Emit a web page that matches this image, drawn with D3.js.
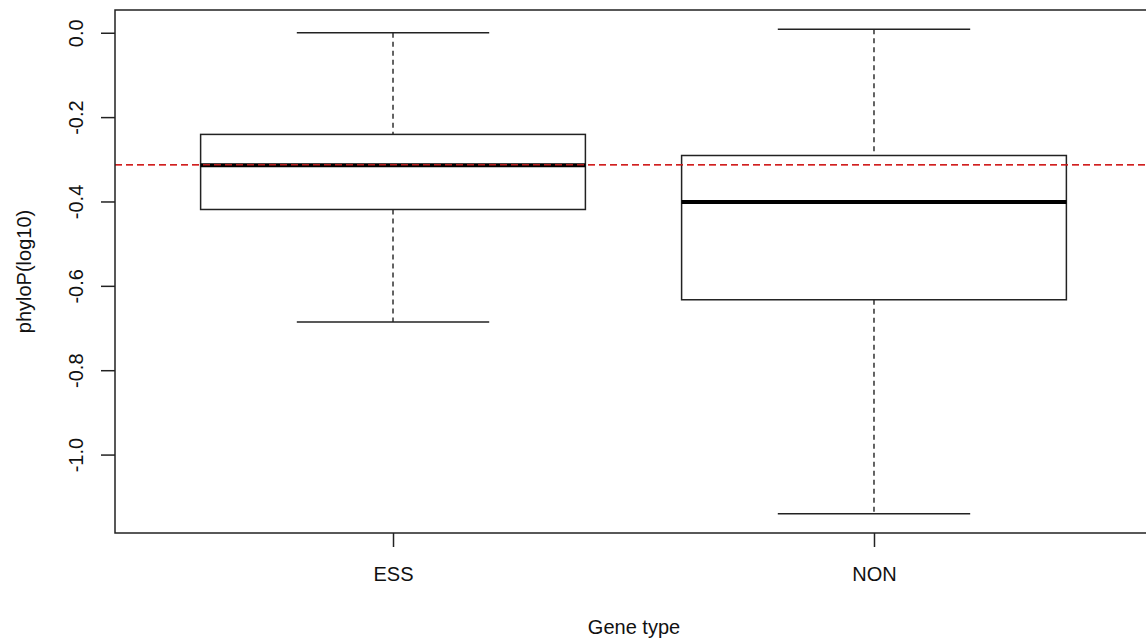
<!DOCTYPE html>
<html>
<head>
<meta charset="utf-8">
<script src="https://cdn.jsdelivr.net/npm/d3@7"></script>
<style>
  body { margin: 0; background: #fff; }
  text { font-family: "Liberation Sans", Arial, sans-serif; fill: #111; }
</style>
</head>
<body>
<div class="chart"></div>
<script>
// Boxplot of phyloP (log10) by gene type

var svgWidth = 1146;
var svgHeight = 641;

// data
var categories = ["ESS", "NON"];
var whiskerLow = [-0.686, -1.140];
var q1 = [-0.419, -0.633];
var median = [-0.314, -0.401];
var q3 = [-0.241, -0.291];
var whiskerHigh = [0.0, 0.008];
var refLine = -0.313;
var yTicks = [0.0, -0.2, -0.4, -0.6, -0.8, -1.0];

var boxes = categories.map(function(c, i) {
  return { name: c, pos: i + 1, lo: whiskerLow[i], q1: q1[i], med: median[i], q3: q3[i], hi: whiskerHigh[i] };
});

// plot region
var plot = { left: 115, right: 1152, top: 10, bottom: 533 };

var svg = d3.select(".chart")
  .append("svg")
  .attr("width", svgWidth)
  .attr("height", svgHeight);

// y limits extended 4% like R does
var yMin = d3.min(whiskerLow), yMax = d3.max(whiskerHigh);
var pad = (yMax - yMin) * 0.04;

var yScale = d3.scaleLinear()
  .domain([yMin - pad, yMax + pad])
  .range([plot.bottom, plot.top]);

var xScale = d3.scaleLinear()
  .domain([0.422, 2.578])
  .range([plot.left, plot.right]);

var boxHalf = 0.4, capHalf = 0.2;

// red reference line
svg.append("line")
  .attr("x1", plot.left).attr("x2", plot.right)
  .attr("y1", yScale(refLine)).attr("y2", yScale(refLine))
  .attr("stroke", "#ff4545")
  .attr("stroke-width", 1.5)
  .attr("stroke-dasharray", "7,4");

var g = svg.selectAll(".box")
  .data(boxes)
  .enter()
  .append("g")
  .attr("class", "box");

// whiskers (dashed)
g.append("line")
  .attr("x1", d => xScale(d.pos)).attr("x2", d => xScale(d.pos))
  .attr("y1", d => yScale(d.hi)).attr("y2", d => yScale(d.q3))
  .attr("stroke", "#111").attr("stroke-width", 1.3)
  .attr("stroke-dasharray", "5,4");
g.append("line")
  .attr("x1", d => xScale(d.pos)).attr("x2", d => xScale(d.pos))
  .attr("y1", d => yScale(d.q1)).attr("y2", d => yScale(d.lo))
  .attr("stroke", "#111").attr("stroke-width", 1.3)
  .attr("stroke-dasharray", "5,4");

// caps
g.append("line")
  .attr("x1", d => xScale(d.pos - capHalf)).attr("x2", d => xScale(d.pos + capHalf))
  .attr("y1", d => yScale(d.hi)).attr("y2", d => yScale(d.hi))
  .attr("stroke", "#222").attr("stroke-width", 1.5);
g.append("line")
  .attr("x1", d => xScale(d.pos - capHalf)).attr("x2", d => xScale(d.pos + capHalf))
  .attr("y1", d => yScale(d.lo)).attr("y2", d => yScale(d.lo))
  .attr("stroke", "#222").attr("stroke-width", 1.5);

// box
g.append("rect")
  .attr("x", d => xScale(d.pos - boxHalf))
  .attr("width", d => xScale(d.pos + boxHalf) - xScale(d.pos - boxHalf))
  .attr("y", d => yScale(d.q3))
  .attr("height", d => yScale(d.q1) - yScale(d.q3))
  .attr("fill", "none")
  .attr("stroke", "#222").attr("stroke-width", 1.5);

// median
g.append("line")
  .attr("x1", d => xScale(d.pos - boxHalf)).attr("x2", d => xScale(d.pos + boxHalf))
  .attr("y1", d => yScale(d.med)).attr("y2", d => yScale(d.med))
  .attr("stroke", "#000").attr("stroke-width", 4);

// red line again on top, it shows dark over the ESS median
svg.append("line")
  .attr("x1", plot.left).attr("x2", plot.right)
  .attr("y1", yScale(refLine)).attr("y2", yScale(refLine))
  .attr("stroke", "#c81e1e")
  .attr("stroke-width", 1.5)
  .attr("stroke-dasharray", "7,4")
  .attr("opacity", 0.9);

// frame
svg.append("rect")
  .attr("x", plot.left).attr("y", plot.top)
  .attr("width", plot.right - plot.left)
  .attr("height", plot.bottom - plot.top)
  .attr("fill", "none")
  .attr("stroke", "#222").attr("stroke-width", 1.5);

// y axis, plain hyphen minus like R
var fmt = d3.format(".1f");
var leftAxis = d3.axisLeft(yScale)
  .tickValues(yTicks)
  .tickSize(14)
  .tickFormat(d => fmt(d).replace("\u2212", "-"));

var yAxis = svg.append("g")
  .attr("transform", `translate(${plot.left}, 0)`)
  .call(leftAxis);
yAxis.select(".domain").remove();
yAxis.selectAll(".tick line").attr("stroke", "#222").attr("stroke-width", 1.5);
yAxis.selectAll(".tick text")
  .attr("x", 0).attr("y", 0).attr("dy", null)
  .attr("transform", "translate(-32,0) rotate(-90)")
  .attr("text-anchor", "middle")
  .attr("font-family", "Liberation Sans, Arial, sans-serif")
  .attr("font-size", "20px")
  .attr("fill", "#111");

// x axis
var bottomAxis = d3.axisBottom(xScale)
  .tickValues(boxes.map(d => d.pos))
  .tickSize(14)
  .tickFormat((d, i) => categories[i]);

var xAxis = svg.append("g")
  .attr("transform", `translate(0, ${plot.bottom})`)
  .call(bottomAxis);
xAxis.select(".domain").remove();
xAxis.selectAll(".tick line").attr("stroke", "#222").attr("stroke-width", 1.5);
xAxis.selectAll(".tick text")
  .attr("y", 48).attr("dy", null)
  .attr("font-family", "Liberation Sans, Arial, sans-serif")
  .attr("font-size", "20px")
  .attr("fill", "#111");

// axis titles
svg.append("text")
  .attr("x", 634)
  .attr("y", 634)
  .attr("text-anchor", "middle")
  .attr("font-size", "20px")
  .text("Gene type");

svg.append("text")
  .attr("transform", `translate(31, ${(plot.top + plot.bottom) / 2}) rotate(-90)`)
  .attr("text-anchor", "middle")
  .attr("font-size", "20px")
  .text("phyloP(log10)");
</script>
</body>
</html>
